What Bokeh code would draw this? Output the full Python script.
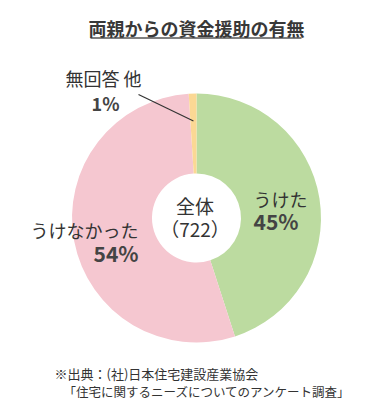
import math
from bokeh.plotting import figure
from bokeh.models import Range1d, ColumnDataSource, Label
from bokeh.embed import file_html
from bokeh.resources import INLINE

# ---- data ----
title = "両親からの資金援助の有無"
categories = ["うけた", "うけなかった", "無回答 他"]
shares = [45, 54, 1]
pct_labels = ["45%", "54%", "1%"]
colors = ["#bcdba0", "#f5c7d0", "#fbd894"]
center_labels = ["全体", "（722）"]
source_lines = ["※出典：(社)日本住宅建設産業協会",
                "「住宅に関するニーズについてのアンケート調査」"]

W, H = 370, 406
FONT = "Noto Sans CJK JP"


def X(px):
    return px


def Y(py):
    return H - py


cx, cy, R, HOLE = X(196), Y(217.5), 124.5, 44.5

starts, ends = [], []
acc = 0
for v in shares:
    starts.append(math.pi / 2 - 2 * math.pi * acc / 100)
    acc += v
    ends.append(math.pi / 2 - 2 * math.pi * acc / 100)

src = ColumnDataSource(dict(cat=categories, share=shares, color=colors,
                            start=starts, end=ends))

p = figure(width=W, height=H, x_range=Range1d(0, W), y_range=Range1d(0, H),
           output_backend="svg", toolbar_location=None,
           x_axis_type=None, y_axis_type=None, min_border=0)
p.grid.visible = False
p.outline_line_color = None
p.background_fill_color = "white"
p.border_fill_color = "white"

p.annular_wedge(x=cx, y=cy, inner_radius=HOLE, outer_radius=R,
                start_angle="start", end_angle="end", direction="clock",
                fill_color="color", line_color=None, source=src)

# leader line for the small slice
mid = math.pi / 2 - 2 * math.pi * (sum(shares[:2]) + shares[2] / 2) / 100
lx, ly = cx + 97 * math.cos(mid), cy + 97 * math.sin(mid)
p.line(x=[X(138), lx], y=[Y(94), ly], line_color="#333333", line_width=1.2)


def lab(text, px, py, size, align="center", bold=False, color="#333333"):
    p.add_layout(Label(x=X(px), y=Y(py), text=text, text_font=FONT,
                       text_font_size=f"{size}px", text_align=align,
                       text_baseline="middle", text_color=color,
                       text_font_style="bold" if bold else "normal"))


# title + underline
lab(title, 196, 27.5, 18, bold=True, color="#383838")
p.line(x=[X(90), X(301)], y=[Y(37.5), Y(37.5)], line_color="#555555", line_width=1.3)

# slice labels
lab(categories[0], 253, 198, 18, align="left")
lab(pct_labels[0], 253, 220.5, 21, align="left", bold=True, color="#444444")
lab(categories[1], 138, 229.5, 18, align="right")
lab(pct_labels[1], 138, 252, 21, align="right", bold=True, color="#444444")
lab(categories[2], 103, 77.5, 18)
lab(pct_labels[2], 105, 102, 18, bold=True, color="#444444")

# center
lab(center_labels[0], 194.5, 205, 19)
lab(center_labels[1], 194.5, 228, 19)

# source
lab(source_lines[0], 54, 373, 13, align="left")
lab(source_lines[1], 63, 391, 12.5, align="left")

open("out.html", "w").write(file_html(p, INLINE))
